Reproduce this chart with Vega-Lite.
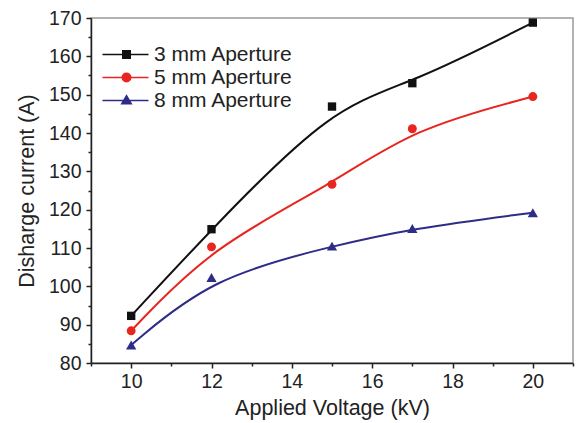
{
  "$schema": "https://vega.github.io/schema/vega-lite/v6.json",
  "width": 482,
  "height": 345,
  "autosize": {"type": "none"},
  "padding": {"left": 91, "top": 18, "right": 3, "bottom": 60},
  "background": "white",
  "config": {
    "font": "Liberation Sans",
    "view": {"stroke": "#9a9a9a", "strokeWidth": 1.5},
    "axis": {"grid": false, "domainColor": "#222222", "domainWidth": 1.5, "tickColor": "#222222", "tickWidth": 1.5, "labelFont": "Liberation Sans", "labelFontSize": 19.5, "labelColor": "#222222", "titleFont": "Liberation Sans", "titleFontSize": 21.5, "titleFontWeight": "normal", "titleColor": "#222222"}
  },
  "data": {
    "values": [
      {"V": 10, "I": 92.3, "series": "3 mm Aperture"},
      {"V": 12, "I": 114.9, "series": "3 mm Aperture"},
      {"V": 15, "I": 146.9, "series": "3 mm Aperture"},
      {"V": 17, "I": 153.0, "series": "3 mm Aperture"},
      {"V": 20, "I": 168.8, "series": "3 mm Aperture"},
      {"V": 10, "I": 88.4, "series": "5 mm Aperture"},
      {"V": 12, "I": 110.3, "series": "5 mm Aperture"},
      {"V": 15, "I": 126.6, "series": "5 mm Aperture"},
      {"V": 17, "I": 141.1, "series": "5 mm Aperture"},
      {"V": 20, "I": 149.5, "series": "5 mm Aperture"},
      {"V": 10, "I": 84.7, "series": "8 mm Aperture"},
      {"V": 12, "I": 102.3, "series": "8 mm Aperture"},
      {"V": 15, "I": 110.5, "series": "8 mm Aperture"},
      {"V": 17, "I": 115.1, "series": "8 mm Aperture"},
      {"V": 20, "I": 119.2, "series": "8 mm Aperture"}
    ]
  },
  "layer": [
    {
      "mark": {"type": "line", "interpolate": "basis", "strokeWidth": 2},
      "encoding": {
        "x": {"field": "V", "type": "quantitative", "scale": {"domain": [9, 21], "nice": false, "zero": false},
              "axis": {"orient": "bottom", "title": "Applied Voltage (kV)", "values": [10, 12, 14, 16, 18, 20], "tickSize": 5, "labelPadding": 4, "titlePadding": 7}},
        "y": {"field": "I", "type": "quantitative", "scale": {"domain": [80, 170], "nice": false, "zero": false},
              "axis": {"orient": "left", "title": "Disharge current (A)", "values": [80, 90, 100, 110, 120, 130, 140, 150, 160, 170], "tickSize": 5, "labelPadding": 5, "titlePadding": 10}},
        "color": {"field": "series", "type": "nominal",
                  "scale": {"domain": ["3 mm Aperture", "5 mm Aperture", "8 mm Aperture"], "range": ["#111111", "#e8251f", "#2e2c86"]},
                  "legend": {
                    "orient": "none", "legendX": 25, "legendY": 26, "title": null, "padding": 0,
                    "labelFont": "Liberation Sans", "labelFontSize": 21, "labelColor": "#222222",
                    "symbolSize": 100, "symbolStrokeWidth": 1.5, "labelOffset": 17, "rowPadding": 1,
                    "encode": {"symbols": {"update": {
                      "shape": {"signal": "datum.value === '3 mm Aperture' ? 'M-4.8,0H4.4M-0.75,-0.75H0.75V0.75H-0.75Z' : datum.value === '5 mm Aperture' ? 'M-4.8,0H4.4M-0.85,0A0.85,0.85 0 1,0 0.85,0A0.85,0.85 0 1,0 -0.85,0Z' : 'M-4.8,0H4.4M0,-0.95L0.95,0.65H-0.95Z'"},
                      "fill": {"signal": "scale('color', datum.value)"},
                      "stroke": {"signal": "scale('color', datum.value)"},
                      "strokeWidth": {"value": 1.5},
                      "opacity": {"value": 1}
                    }}}
                  }}
      }
    },
    {
      "transform": [{"filter": "datum.series === '3 mm Aperture'"}],
      "mark": {"type": "point", "filled": true, "opacity": 1, "size": 70, "shape": "square"},
      "encoding": {
        "x": {"field": "V", "type": "quantitative",
              "axis": {"orient": "bottom", "title": null, "labels": false, "domain": false, "values": [9, 11, 13, 15, 17, 19, 21], "tickSize": 3}},
        "y": {"field": "I", "type": "quantitative",
              "axis": {"orient": "left", "title": null, "labels": false, "domain": false, "values": [85, 95, 105, 115, 125, 135, 145, 155, 165], "tickSize": 3}},
        "color": {"field": "series", "type": "nominal"}
      }
    },
    {
      "transform": [{"filter": "datum.series === '5 mm Aperture'"}],
      "mark": {"type": "point", "filled": true, "opacity": 1, "size": 80, "shape": "circle"},
      "encoding": {
        "x": {"field": "V", "type": "quantitative", "axis": null},
        "y": {"field": "I", "type": "quantitative", "axis": null},
        "color": {"field": "series", "type": "nominal"}
      }
    },
    {
      "transform": [{"filter": "datum.series === '8 mm Aperture'"}],
      "mark": {"type": "point", "filled": true, "opacity": 1, "size": 105, "shape": "triangle-up"},
      "encoding": {
        "x": {"field": "V", "type": "quantitative", "axis": null},
        "y": {"field": "I", "type": "quantitative", "axis": null},
        "color": {"field": "series", "type": "nominal"}
      }
    }
  ],
  "resolve": {"axis": {"x": "independent", "y": "independent"}}
}
